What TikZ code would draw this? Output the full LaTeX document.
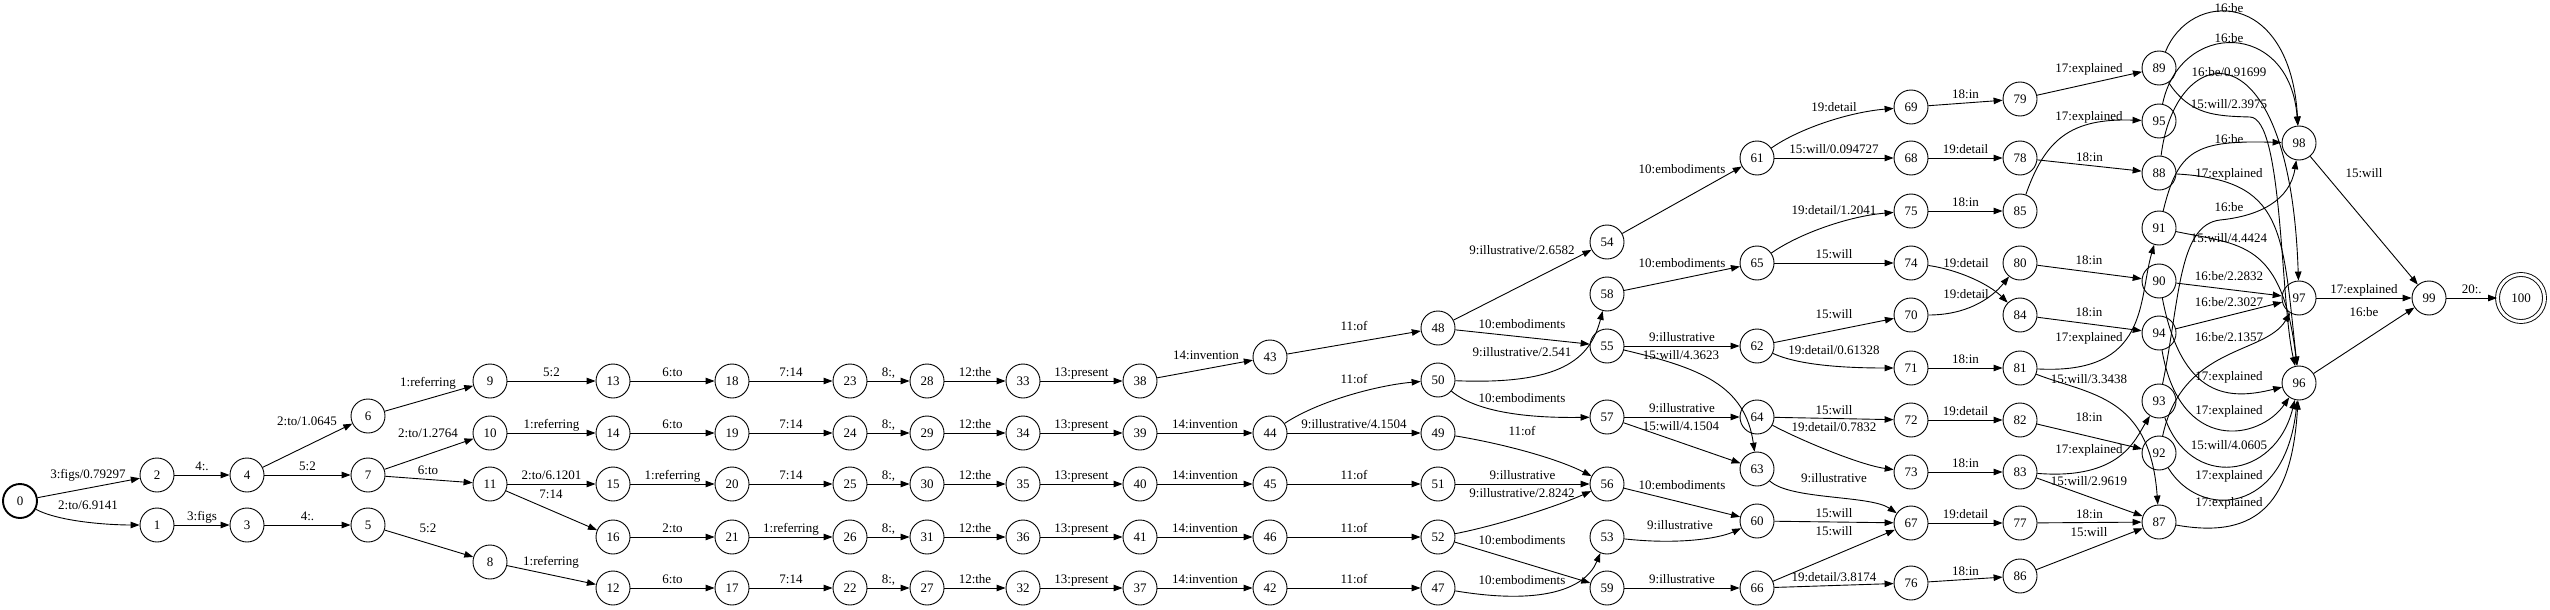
\documentclass[tikz,border=0pt]{standalone}
\usepackage{fontspec}
\setmainfont{Liberation Serif}
\usetikzlibrary{arrows.meta}

\begin{document}
\begin{tikzpicture}[x=1pt,y=-1pt,
    fst/.style={circle, draw, line width=0.9pt, minimum size=34pt, inner sep=0pt, font=\fontsize{13}{15}\selectfont},
    startst/.style={fst, line width=1.9pt},
    finalst/.style={fst, double, double distance=3pt, minimum size=47pt},
    arr/.style={line width=0.9pt, -{Triangle[length=9pt,width=6.5pt]}},
    lbl/.style={inner sep=1pt, text height=9pt, text depth=3pt, font=\fontsize{13}{15}\selectfont}]
    \useasboundingbox (0,0) rectangle (2550,610);

    % States, column by column
    \node[startst] (n0) at (20,501) {0};
    \node[fst] (n1) at (157,525) {1}; \node[fst] (n2) at (157,475) {2};
    \node[fst] (n3) at (247,525) {3}; \node[fst] (n4) at (247,475) {4};
    \node[fst] (n5) at (368,525) {5}; \node[fst] (n6) at (368,416) {6}; \node[fst] (n7) at (368,475) {7};
    \node[fst] (n8) at (490,562) {8}; \node[fst] (n9) at (490,381) {9};
    \node[fst] (n10) at (490,433) {10}; \node[fst] (n11) at (490,484) {11};
    \node[fst] (n12) at (613,588) {12}; \node[fst] (n13) at (613,381) {13}; \node[fst] (n14) at (613,433) {14};
    \node[fst] (n15) at (613,484) {15}; \node[fst] (n16) at (613,537) {16};
    \node[fst] (n17) at (732,588) {17}; \node[fst] (n18) at (732,381) {18}; \node[fst] (n19) at (732,433) {19};
    \node[fst] (n20) at (732,484) {20}; \node[fst] (n21) at (732,537) {21};
    \node[fst] (n22) at (850,588) {22}; \node[fst] (n23) at (850,381) {23}; \node[fst] (n24) at (850,433) {24};
    \node[fst] (n25) at (850,484) {25}; \node[fst] (n26) at (850,537) {26};
    \node[fst] (n27) at (927,588) {27}; \node[fst] (n28) at (927,381) {28}; \node[fst] (n29) at (927,433) {29};
    \node[fst] (n30) at (927,484) {30}; \node[fst] (n31) at (927,537) {31};
    \node[fst] (n32) at (1023,588) {32}; \node[fst] (n33) at (1023,381) {33}; \node[fst] (n34) at (1023,433) {34};
    \node[fst] (n35) at (1023,484) {35}; \node[fst] (n36) at (1023,537) {36};
    \node[fst] (n37) at (1140,588) {37}; \node[fst] (n38) at (1140,381) {38}; \node[fst] (n39) at (1140,433) {39};
    \node[fst] (n40) at (1140,484) {40}; \node[fst] (n41) at (1140,537) {41};
    \node[fst] (n42) at (1270,588) {42}; \node[fst] (n43) at (1270,357) {43}; \node[fst] (n44) at (1270,433) {44};
    \node[fst] (n45) at (1270,484) {45}; \node[fst] (n46) at (1270,537) {46};
    \node[fst] (n47) at (1438,588) {47}; \node[fst] (n48) at (1438,328) {48}; \node[fst] (n49) at (1438,433) {49};
    \node[fst] (n50) at (1438,380) {50}; \node[fst] (n51) at (1438,484) {51}; \node[fst] (n52) at (1438,537) {52};
    \node[fst] (n53) at (1607,537) {53}; \node[fst] (n54) at (1607,242) {54}; \node[fst] (n55) at (1607,346) {55};
    \node[fst] (n56) at (1607,484) {56}; \node[fst] (n57) at (1607,417) {57}; \node[fst] (n58) at (1607,294) {58};
    \node[fst] (n59) at (1607,588) {59};
    \node[fst] (n60) at (1757,521) {60}; \node[fst] (n61) at (1757,158) {61}; \node[fst] (n62) at (1757,346) {62};
    \node[fst] (n63) at (1757,469) {63}; \node[fst] (n64) at (1757,417) {64}; \node[fst] (n65) at (1757,263) {65};
    \node[fst] (n66) at (1757,588) {66};
    \node[fst] (n67) at (1911,523) {67}; \node[fst] (n68) at (1911,158) {68}; \node[fst] (n69) at (1911,107) {69};
    \node[fst] (n70) at (1911,315) {70}; \node[fst] (n71) at (1911,368) {71}; \node[fst] (n72) at (1911,420) {72};
    \node[fst] (n73) at (1911,472) {73}; \node[fst] (n74) at (1911,263) {74}; \node[fst] (n75) at (1911,211) {75};
    \node[fst] (n76) at (1911,583) {76};
    \node[fst] (n77) at (2020,523) {77}; \node[fst] (n78) at (2020,158) {78}; \node[fst] (n79) at (2020,99) {79};
    \node[fst] (n80) at (2020,263) {80}; \node[fst] (n81) at (2020,368) {81}; \node[fst] (n82) at (2020,420) {82};
    \node[fst] (n83) at (2020,472) {83}; \node[fst] (n84) at (2020,315) {84}; \node[fst] (n85) at (2020,211) {85};
    \node[fst] (n86) at (2020,576) {86};
    \node[fst] (n87) at (2159,522) {87}; \node[fst] (n88) at (2159,173) {88}; \node[fst] (n89) at (2159,68) {89};
    \node[fst] (n90) at (2159,281) {90}; \node[fst] (n91) at (2159,228) {91}; \node[fst] (n92) at (2159,453) {92};
    \node[fst] (n93) at (2159,401) {93}; \node[fst] (n94) at (2159,333) {94}; \node[fst] (n95) at (2159,121) {95};
    \node[fst] (n96) at (2299,383) {96}; \node[fst] (n97) at (2299,298) {97}; \node[fst] (n98) at (2299,143) {98};
    \node[fst] (n99) at (2429,298) {99};
    \node[finalst] (n100) at (2521,298) {100};

    % Opening arcs
    \draw[arr] (n0) -- (n2) node[lbl] at (88,475) {3:figs/0.79297};
    \draw[arr] (n0) .. controls (60,522) and (110,525) .. (n1) node[lbl] at (88,506) {2:to/6.9141};
    \draw[arr] (n2) -- (n4) node[lbl, midway, above] {4:.};
    \draw[arr] (n1) -- (n3) node[lbl, midway, above] {3:figs};
    \draw[arr] (n4) -- (n6) node[lbl] at (307,422) {2:to/1.0645};
    \draw[arr] (n4) -- (n7) node[lbl, midway, above] {5:2};
    \draw[arr] (n3) -- (n5) node[lbl, midway, above] {4:.};
    \draw[arr] (n5) -- (n8) node[lbl] at (428,529) {5:2};
    \draw[arr] (n6) -- (n9) node[lbl] at (428,383) {1:referring};
    \draw[arr] (n7) -- (n10) node[lbl] at (428,434) {2:to/1.2764};
    \draw[arr] (n7) -- (n11) node[lbl] at (428,471) {6:to};
    \draw[arr] (n8) -- (n12) node[lbl] at (551,562) {1:referring};
    \draw[arr] (n9) -- (n13) node[lbl, midway, above] {5:2};
    \draw[arr] (n10) -- (n14) node[lbl, midway, above] {1:referring};
    \draw[arr] (n11) -- (n15) node[lbl, midway, above] {2:to/6.1201};
    \draw[arr] (n11) -- (n16) node[lbl] at (551,495) {7:14};
    \draw[arr] (n12) -- (n17) node[lbl, midway, above] {6:to};
    \draw[arr] (n13) -- (n18) node[lbl, midway, above] {6:to};
    \draw[arr] (n14) -- (n19) node[lbl, midway, above] {6:to};
    \draw[arr] (n15) -- (n20) node[lbl, midway, above] {1:referring};
    \draw[arr] (n16) -- (n21) node[lbl, midway, above] {2:to};
    \draw[arr] (n17) -- (n22) node[lbl, midway, above] {7:14};
    \draw[arr] (n18) -- (n23) node[lbl, midway, above] {7:14};
    \draw[arr] (n19) -- (n24) node[lbl, midway, above] {7:14};
    \draw[arr] (n20) -- (n25) node[lbl, midway, above] {7:14};
    \draw[arr] (n21) -- (n26) node[lbl, midway, above] {1:referring};

    % Five parallel rows
    \draw[arr] (n23) -- (n28) node[lbl, midway, above] {8:,};
    \draw[arr] (n28) -- (n33) node[lbl, midway, above] {12:the};
    \draw[arr] (n33) -- (n38) node[lbl, midway, above] {13:present};
    \draw[arr] (n38) -- (n43) node[lbl] at (1206,356) {14:invention};
    \draw[arr] (n24) -- (n29) node[lbl, midway, above] {8:,};
    \draw[arr] (n29) -- (n34) node[lbl, midway, above] {12:the};
    \draw[arr] (n34) -- (n39) node[lbl, midway, above] {13:present};
    \draw[arr] (n39) -- (n44) node[lbl, midway, above] {14:invention};
    \draw[arr] (n25) -- (n30) node[lbl, midway, above] {8:,};
    \draw[arr] (n30) -- (n35) node[lbl, midway, above] {12:the};
    \draw[arr] (n35) -- (n40) node[lbl, midway, above] {13:present};
    \draw[arr] (n40) -- (n45) node[lbl, midway, above] {14:invention};
    \draw[arr] (n26) -- (n31) node[lbl, midway, above] {8:,};
    \draw[arr] (n31) -- (n36) node[lbl, midway, above] {12:the};
    \draw[arr] (n36) -- (n41) node[lbl, midway, above] {13:present};
    \draw[arr] (n41) -- (n46) node[lbl, midway, above] {14:invention};
    \draw[arr] (n22) -- (n27) node[lbl, midway, above] {8:,};
    \draw[arr] (n27) -- (n32) node[lbl, midway, above] {12:the};
    \draw[arr] (n32) -- (n37) node[lbl, midway, above] {13:present};
    \draw[arr] (n37) -- (n42) node[lbl, midway, above] {14:invention};

    % of / illustrative / embodiments
    \draw[arr] (n43) -- (n48) node[lbl] at (1354,327) {11:of};
    \draw[arr] (n44) .. controls (1320,400) and (1380,385) .. (n50) node[lbl] at (1354,380) {11:of};
    \draw[arr] (n44) -- (n49) node[lbl, midway, above] {9:illustrative/4.1504};
    \draw[arr] (n45) -- (n51) node[lbl, midway, above] {11:of};
    \draw[arr] (n46) -- (n52) node[lbl, midway, above] {11:of};
    \draw[arr] (n42) -- (n47) node[lbl, midway, above] {11:of};
    \draw[arr] (n48) -- (n54) node[lbl] at (1522,251) {9:illustrative/2.6582};
    \draw[arr] (n48) -- (n55) node[lbl] at (1522,325) {10:embodiments};
    \draw[arr] (n50) .. controls (1560,385) and (1590,360) .. (n58) node[lbl] at (1522,353) {9:illustrative/2.541};
    \draw[arr] (n50) .. controls (1480,415) and (1540,418) .. (n57) node[lbl] at (1522,399) {10:embodiments};
    \draw[arr] (n49) .. controls (1510,445) and (1560,460) .. (n56) node[lbl] at (1522,432) {11:of};
    \draw[arr] (n51) -- (n56) node[lbl, midway, above] {9:illustrative};
    \draw[arr] (n52) .. controls (1500,525) and (1560,505) .. (n56) node[lbl] at (1522,494) {9:illustrative/2.8242};
    \draw[arr] (n52) -- (n59) node[lbl] at (1522,541) {10:embodiments};
    \draw[arr] (n47) .. controls (1540,605) and (1585,590) .. (n53) node[lbl] at (1522,581) {10:embodiments};
    \draw[arr] (n54) -- (n61) node[lbl] at (1682,170) {10:embodiments};
    \draw[arr] (n58) -- (n65) node[lbl] at (1682,264) {10:embodiments};
    \draw[arr] (n55) -- (n62) node[lbl, midway, above] {9:illustrative};
    \draw[arr] (n55) .. controls (1700,368) and (1745,385) .. (n63) node[lbl] at (1681,356) {15:will/4.3623};
    \draw[arr] (n57) -- (n64) node[lbl, midway, above] {9:illustrative};
    \draw[arr] (n57) -- (n63) node[lbl] at (1681,427) {15:will/4.1504};
    \draw[arr] (n56) -- (n60) node[lbl] at (1682,486) {10:embodiments};
    \draw[arr] (n53) .. controls (1680,545) and (1720,538) .. (n60) node[lbl] at (1680,526) {9:illustrative};
    \draw[arr] (n59) -- (n66) node[lbl, midway, above] {9:illustrative};

    % will / detail / in
    \draw[arr] (n61) .. controls (1800,128) and (1850,112) .. (n69) node[lbl] at (1834,108) {19:detail};
    \draw[arr] (n61) -- (n68) node[lbl, midway, above] {15:will/0.094727};
    \draw[arr] (n65) .. controls (1800,233) and (1850,216) .. (n75) node[lbl] at (1834,211) {19:detail/1.2041};
    \draw[arr] (n65) -- (n74) node[lbl, midway, above] {15:will};
    \draw[arr] (n62) -- (n70) node[lbl] at (1834,315) {15:will};
    \draw[arr] (n62) .. controls (1800,366) and (1850,368) .. (n71) node[lbl] at (1834,351) {19:detail/0.61328};
    \draw[arr] (n64) -- (n72) node[lbl, midway, above] {15:will};
    \draw[arr] (n64) .. controls (1800,440) and (1860,465) .. (n73) node[lbl] at (1834,428) {19:detail/0.7832};
    \draw[arr] (n63) .. controls (1790,500) and (1870,495) .. (n67) node[lbl] at (1834,479) {9:illustrative};
    \draw[arr] (n60) -- (n67) node[lbl, midway, above] {15:will};
    \draw[arr] (n66) -- (n67) node[lbl] at (1834,532) {15:will};
    \draw[arr] (n66) -- (n76) node[lbl, midway, above] {19:detail/3.8174};
    \draw[arr] (n69) -- (n79) node[lbl, midway, above] {18:in};
    \draw[arr] (n68) -- (n78) node[lbl, midway, above] {19:detail};
    \draw[arr] (n75) -- (n85) node[lbl, midway, above] {18:in};
    \draw[arr] (n74) .. controls (1960,270) and (1990,285) .. (n84) node[lbl] at (1966,264) {19:detail};
    \draw[arr] (n70) .. controls (1965,315) and (1990,300) .. (n80) node[lbl] at (1966,295) {19:detail};
    \draw[arr] (n71) -- (n81) node[lbl, midway, above] {18:in};
    \draw[arr] (n72) -- (n82) node[lbl, midway, above] {19:detail};
    \draw[arr] (n73) -- (n83) node[lbl, midway, above] {18:in};
    \draw[arr] (n67) -- (n77) node[lbl, midway, above] {19:detail};
    \draw[arr] (n76) -- (n86) node[lbl, midway, above] {18:in};

    % explained / in / will
    \draw[arr] (n79) -- (n89) node[lbl] at (2089,70) {17:explained};
    \draw[arr] (n85) .. controls (2045,140) and (2070,118) .. (n95) node[lbl] at (2089,117) {17:explained};
    \draw[arr] (n78) -- (n88) node[lbl, midway, above] {18:in};
    \draw[arr] (n80) -- (n90) node[lbl] at (2089,261) {18:in};
    \draw[arr] (n84) -- (n94) node[lbl] at (2089,313) {18:in};
    \draw[arr] (n81) .. controls (2150,375) and (2138,300) .. (n91) node[lbl] at (2089,338) {17:explained};
    \draw[arr] (n81) .. controls (2090,395) and (2150,395) .. (n87) node[lbl] at (2089,380) {15:will/3.3438};
    \draw[arr] (n82) -- (n92) node[lbl] at (2089,418) {18:in};
    \draw[arr] (n83) .. controls (2120,480) and (2135,440) .. (n93) node[lbl] at (2089,450) {17:explained};
    \draw[arr] (n83) -- (n87) node[lbl] at (2089,482) {15:will/2.9619};
    \draw[arr] (n77) -- (n87) node[lbl, midway, above] {18:in};
    \draw[arr] (n86) -- (n87) node[lbl] at (2089,533) {15:will};

    % be / will / explained into the last three
    \draw[arr] (n89) .. controls (2190,-10) and (2290,-12) .. (n98) node[lbl] at (2229,10) {16:be};
    \draw[arr] (n95) .. controls (2180,20) and (2290,20) .. (n98) node[lbl] at (2229,40) {16:be};
    \draw[arr] (n88) .. controls (2175,40) and (2290,20) .. (n97) node[lbl] at (2229,73) {16:be/0.91699};
    \draw[arr] (n89) .. controls (2190,115) and (2215,116) .. (2250,117) .. controls (2283,118) and (2280,300) .. (n96) node[lbl] at (2229,105) {15:will/2.3975};
    \draw[arr] (n91) .. controls (2178,150) and (2195,140) .. (n98) node[lbl] at (2229,140) {16:be};
    \draw[arr] (n88) .. controls (2285,180) and (2282,230) .. (n96) node[lbl] at (2229,174) {17:explained};
    \draw[arr] (n93) .. controls (2180,300) and (2178,225) .. (2220,220) .. controls (2260,216) and (2290,200) .. (n98) node[lbl] at (2229,208) {16:be};
    \draw[arr] (n91) .. controls (2240,245) and (2282,240) .. (n96) node[lbl] at (2229,239) {15:will/4.4424};
    \draw[arr] (n90) -- (n97) node[lbl] at (2229,277) {16:be/2.2832};
    \draw[arr] (n94) -- (n97) node[lbl] at (2229,303) {16:be/2.3027};
    \draw[arr] (n92) .. controls (2182,345) and (2265,355) .. (n97) node[lbl] at (2229,338) {16:be/2.1357};
    \draw[arr] (n90) .. controls (2182,400) and (2230,400) .. (n96) node[lbl] at (2229,377) {17:explained};
    \draw[arr] (n94) .. controls (2180,455) and (2260,440) .. (n96) node[lbl] at (2229,411) {17:explained};
    \draw[arr] (n93) .. controls (2190,490) and (2275,480) .. (n96) node[lbl] at (2229,446) {15:will/4.0605};
    \draw[arr] (n92) .. controls (2200,520) and (2285,515) .. (n96) node[lbl] at (2229,476) {17:explained};
    \draw[arr] (n87) .. controls (2260,540) and (2292,500) .. (n96) node[lbl] at (2229,503) {17:explained};

    % Final arcs
    \draw[arr] (n98) -- (n99) node[lbl] at (2364,174) {15:will};
    \draw[arr] (n97) -- (n99) node[lbl, midway, above] {17:explained};
    \draw[arr] (n96) -- (n99) node[lbl] at (2364,313) {16:be};
    \draw[arr] (n99) -- (n100) node[lbl, midway, above] {20:.};
\end{tikzpicture}
\end{document}
